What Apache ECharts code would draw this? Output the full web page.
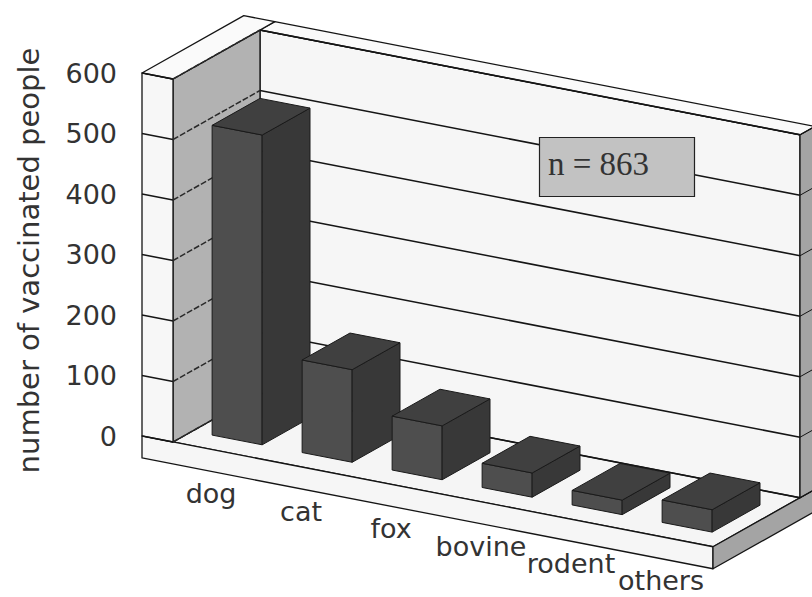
<!DOCTYPE html>
<html><head><meta charset="utf-8">
<script src="https://cdn.jsdelivr.net/npm/echarts@6/dist/echarts.min.js"></script>
<style>html,body{margin:0;padding:0;background:#fff}#c{width:812px;height:597px}</style>
</head><body><div id="c"></div>
<script>
const categories = ['dog', 'cat', 'fox', 'bovine', 'rodent', 'others'];
const vaccinated = [512, 153, 89, 40, 24, 37];
const yTicks = [0, 100, 200, 300, 400, 500, 600];
const noteText = 'n = 863';

// oblique projection settings (style)
const SH = 0.194, DX = 87, DY = 49;
const WALL = 31, SLAB = 22, T = 0.17;
const D0 = 0.22, D1 = 0.77, HALF = 0.278;
const LABEL_DEPTH = -0.08, LABEL_DROP = 39;

const chart = echarts.init(document.getElementById('c'), null, {renderer: 'svg'});

function proj(api) {
  const c0 = api.coord([0, 0]);
  const bw = api.size([1, 0])[0];
  const X0 = c0[0] - bw / 2;
  return {
    bw: bw, X0: X0, Y0: c0[1],
    P: function (x, y, d) { return [x + DX * d, y + SH * (x - X0) - DY * d]; },
    yv: function (v) { return api.coord([0, v])[1]; }
  };
}
function poly(points, fill, extra) {
  return {type: 'polygon', shape: {points: points},
    style: Object.assign({fill: fill, stroke: '#151515', lineWidth: 1.3, lineJoin: 'round'}, extra || {})};
}
function seg(a, b, style) {
  return {type: 'line', shape: {x1: a[0], y1: a[1], x2: b[0], y2: b[1]},
    style: Object.assign({stroke: '#151515', lineWidth: 1.5}, style || {})};
}

function renderRoom(params, api) {
  const g = proj(api), P = g.P, X0 = g.X0, Y0 = g.Y0;
  const XR = X0 + g.bw * categories.length;
  const XL = X0 - WALL;
  const yTop = g.yv(yTicks[yTicks.length - 1]);
  const ch = [];
  ch.push(poly([P(X0, Y0, 0), P(XR, Y0, 0), P(XR, Y0, 1 + T), P(X0, Y0, 1 + T)], '#f5f5f5'));
  ch.push(poly([P(XL, Y0, 0), P(XR, Y0, 0), P(XR, Y0 + SLAB, 0), P(XL, Y0 + SLAB, 0)], '#f6f6f6'));
  ch.push(poly([P(XR, Y0, 0), P(XR, Y0, 1 + T), P(XR, Y0 + SLAB, 1 + T), P(XR, Y0 + SLAB, 0)], '#a4a4a4'));
  ch.push(poly([P(X0, yTop, 1), P(XR, yTop, 1), P(XR, Y0, 1), P(X0, Y0, 1)], '#f6f6f6'));
  ch.push(poly([P(XR, yTop, 1), P(XR, yTop, 1 + T), P(XR, Y0, 1 + T), P(XR, Y0, 1)], '#a4a4a4'));
  ch.push(poly([P(X0, yTop, 1), P(XR, yTop, 1), P(XR, yTop, 1 + T), P(X0, yTop, 1 + T)], '#fafafa'));
  ch.push(poly([P(X0, Y0, 0), P(X0, Y0, 1), P(X0, yTop, 1), P(X0, yTop, 0)], '#b2b2b2'));
  ch.push(poly([P(XL, Y0, 0), P(X0, Y0, 0), P(X0, yTop, 0), P(XL, yTop, 0)], '#f7f7f7'));
  ch.push(poly([P(XL, yTop, 0), P(X0, yTop, 0), P(X0, yTop, 1 + T), P(XL, yTop, 1 + T)], '#fafafa'));
  yTicks.forEach(function (v) {
    const y = g.yv(v);
    ch.push(seg(P(XL, y, 0), P(X0, y, 0)));
    ch.push(seg(P(X0, y, 0), P(X0, y, 1), {lineDash: [6, 2], stroke: '#2a2a2a'}));
    ch.push(seg(P(X0, y, 1), P(XR, y, 1)));
    ch.push(seg(P(XR, y, 1), P(XR, y, 1 + T), {lineWidth: 1}));
  });
  return {type: 'group', children: ch};
}

function renderBar(params, api) {
  const g = proj(api), P = g.P;
  const i = api.value(0);
  const top = api.coord([i, api.value(1)]);
  const base = api.coord([i, 0]);
  const h = g.bw * HALF;
  const xl = top[0] - h, xr = top[0] + h, yt = top[1], yb = base[1];
  const st = {stroke: '#1a1a1a', lineWidth: 1};
  const lp = P(top[0], yb, LABEL_DEPTH);
  return {type: 'group', children: [
    poly([P(xl, yb, D0), P(xr, yb, D0), P(xr, yt, D0), P(xl, yt, D0)], '#4e4e4e', st),
    poly([P(xr, yb, D0), P(xr, yb, D1), P(xr, yt, D1), P(xr, yt, D0)], '#383838', st),
    poly([P(xl, yt, D0), P(xr, yt, D0), P(xr, yt, D1), P(xl, yt, D1)], '#404040', st),
    {type: 'text', x: lp[0], y: lp[1] + LABEL_DROP,
      style: {text: categories[i], align: 'center', verticalAlign: 'middle',
        fontFamily: 'DejaVu Sans', fontSize: 27, fill: '#333'}}
  ]};
}

chart.setOption({
  animation: false,
  backgroundColor: '#ffffff',
  title: {
    text: noteText, left: 539, top: 137, padding: [10, 46, 17, 9],
    backgroundColor: '#c2c2c2', borderColor: '#222', borderWidth: 1.2,
    textStyle: {fontFamily: 'Liberation Serif', fontSize: 33, fontWeight: 'normal', color: '#333'}
  },
  grid: {left: 173, width: 540, top: 79, height: 363},
  xAxis: {type: 'category', data: categories, show: false},
  yAxis: {
    type: 'value', min: 0, max: 600, interval: 100,
    axisLine: {show: false}, axisTick: {show: false}, splitLine: {show: false},
    axisLabel: {margin: 56, verticalAlign: 'bottom', lineHeight: 12,
      fontFamily: 'DejaVu Sans', fontSize: 27, color: '#333'},
    name: 'number of vaccinated people', nameLocation: 'middle', nameRotate: 90, nameGap: 130,
    nameTextStyle: {fontFamily: 'DejaVu Sans', fontSize: 29, color: '#333'}
  },
  series: [
    {type: 'custom', name: 'room', renderItem: renderRoom, data: [[0, 0]], silent: true, z: 1},
    {type: 'custom', name: 'vaccinated', renderItem: renderBar,
      data: vaccinated.map(function (v, i) { return [i, v]; }),
      encode: {x: 0, y: 1}, z: 2}
  ]
});
</script>
</body></html>
